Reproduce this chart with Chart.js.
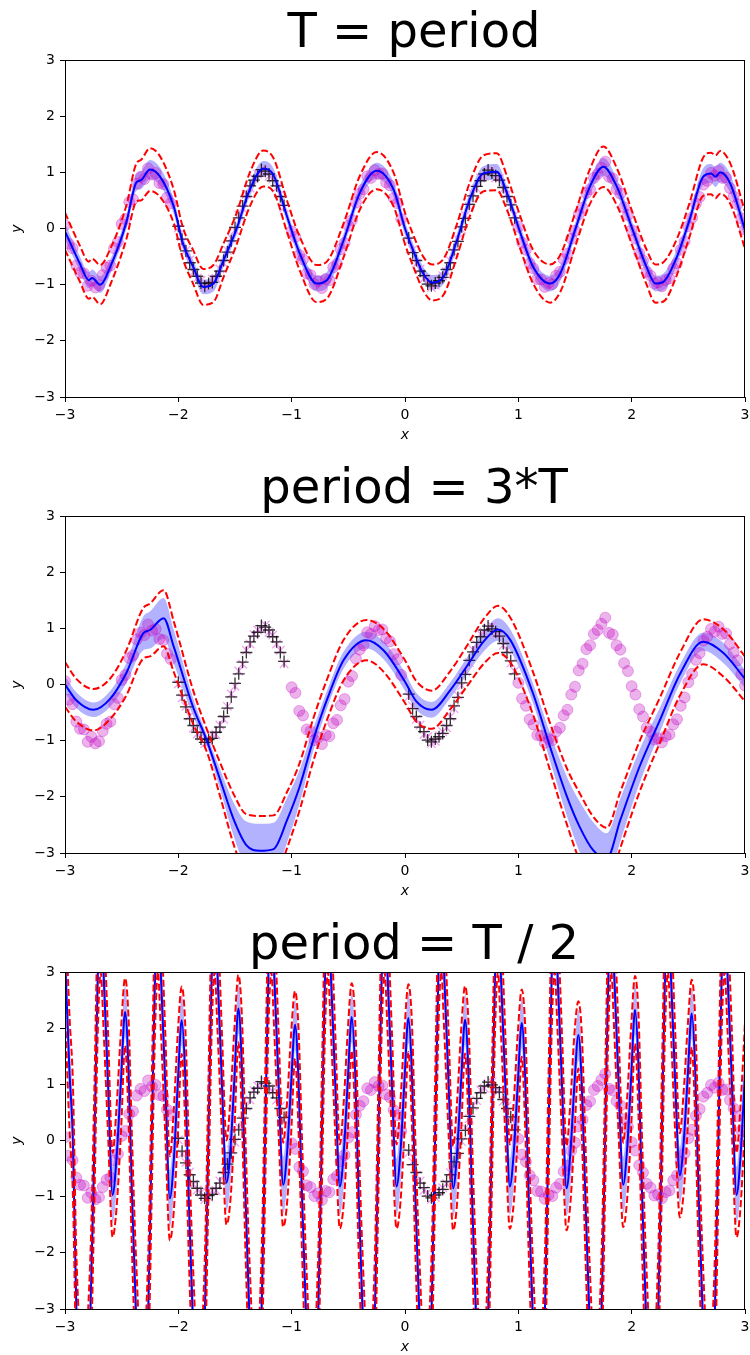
<!DOCTYPE html>
<html>
<head>
<meta charset="utf-8">
<script src="https://cdn.jsdelivr.net/npm/chart.js@4.4.1/dist/chart.umd.min.js"></script>
<style>
html, body { margin: 0; padding: 0; background: #fff; overflow: hidden; width: 750px; height: 1355px; }
canvas { position: absolute; left: 0; }
</style>
</head>
<body>
<canvas id="c1" width="750" height="456" style="top:0px"></canvas>
<canvas id="c2" width="750" height="456" style="top:456px"></canvas>
<canvas id="c3" width="750" height="456" style="top:912px"></canvas>
<script>
// panel titles and axis ticks
const titles = ['T = period', 'period = 3*T', 'period = T / 2'];
const xTicks = [-3, -2, -1, 0, 1, 2, 3];
const yTicks = [-3, -2, -1, 0, 1, 2, 3];

// training points (magenta circles)
const trainX = [
  -3.000, -2.967, -2.933, -2.900, -2.867, -2.833, -2.800, -2.767, -2.733, -2.700, -2.667, -2.633, -2.600, -2.567, -2.533,
  -2.500, -2.467, -2.433, -2.400, -2.367, -2.333, -2.300, -2.267, -2.233, -2.200, -2.167, -2.133, -2.100, -2.067,
  -1.000, -0.967, -0.933, -0.900, -0.867, -0.833, -0.800, -0.767, -0.733, -0.700, -0.667, -0.633, -0.600, -0.567, -0.533,
  -0.500, -0.467, -0.433, -0.400, -0.367, -0.333, -0.300, -0.267, -0.233, -0.200, -0.167, -0.133, -0.100, -0.067, -0.033,
  1.000, 1.033, 1.067, 1.100, 1.133, 1.167, 1.200, 1.233, 1.267, 1.300, 1.333, 1.367, 1.400, 1.433, 1.467,
  1.500, 1.533, 1.567, 1.600, 1.633, 1.667, 1.700, 1.733, 1.767, 1.800, 1.833, 1.867, 1.900, 1.933, 1.967,
  2.000, 2.033, 2.067, 2.100, 2.133, 2.167, 2.200, 2.233, 2.267, 2.300, 2.333, 2.367, 2.400, 2.433, 2.467,
  2.500, 2.533, 2.567, 2.600, 2.633, 2.667, 2.700, 2.733, 2.767, 2.800, 2.833, 2.867, 2.900, 2.933, 2.967, 3.000
];
const trainY = [
  0.06, -0.27, -0.35, -0.66, -0.79, -0.80, -1.02, -0.93, -1.05, -1.01, -0.83, -0.70, -0.66, -0.35, -0.24,
  0.08, 0.17, 0.47, 0.52, 0.80, 0.92, 0.88, 1.07, 0.96, 0.99, 0.81, 0.79, 0.55, 0.45,
  -0.05, -0.15, -0.47, -0.55, -0.80, -0.83, -0.99, -0.94, -1.06, -0.90, -0.92, -0.69, -0.63, -0.37, -0.26,
  0.05, 0.15, 0.46, 0.62, 0.70, 0.93, 0.90, 1.04, 0.97, 0.98, 0.82, 0.77, 0.54, 0.45, 0.17,
  0.03, -0.25, -0.38, -0.62, -0.71, -0.90, -0.91, -1.04, -0.97, -0.99, -0.84, -0.77, -0.55, -0.45, -0.18,
  -0.04, 0.25, 0.37, 0.63, 0.70, 0.90, 0.97, 1.08, 1.19, 0.92, 0.89, 0.70, 0.62, 0.38, 0.24,
  -0.03, -0.18, -0.44, -0.57, -0.77, -0.84, -0.98, -0.96, -1.03, -0.92, -0.89, -0.71, -0.62, -0.38, -0.23,
  0.04, 0.19, 0.44, 0.56, 0.78, 0.85, 0.99, 0.94, 1.03, 0.90, 0.91, 0.72, 0.57, 0.43, 0.18, -0.02
];

// held-out points: black plus = observed, violet x = true
const testX = [
  -2.000, -1.967, -1.933, -1.900, -1.867, -1.833, -1.800, -1.767, -1.733, -1.700, -1.667, -1.633, -1.600, -1.567, -1.533,
  -1.500, -1.467, -1.433, -1.400, -1.367, -1.333, -1.300, -1.267, -1.233, -1.200, -1.167, -1.133, -1.100, -1.067,
  0.033, 0.067, 0.100, 0.133, 0.167, 0.200, 0.233, 0.267, 0.300, 0.333, 0.367, 0.400, 0.433, 0.467, 0.500,
  0.533, 0.567, 0.600, 0.633, 0.667, 0.700, 0.733, 0.767, 0.800, 0.833, 0.867, 0.900, 0.933, 0.967
];
const testY = [
  0.04, -0.19, -0.40, -0.61, -0.73, -0.85, -0.97, -1.03, -0.98, -0.96, -0.85, -0.76, -0.57, -0.42, -0.22,
  0.02, 0.19, 0.40, 0.57, 0.76, 0.86, 0.93, 1.05, 1.02, 0.97, 0.85, 0.76, 0.57, 0.41,
  -0.17, -0.43, -0.57, -0.76, -0.84, -0.99, -1.02, -0.97, -0.93, -0.87, -0.73, -0.61, -0.38, -0.23, 0.03,
  0.18, 0.43, 0.58, 0.75, 0.85, 0.97, 1.04, 0.99, 0.94, 0.86, 0.73, 0.57, 0.42, 0.19
];
const testTrue = [
  0.01, -0.24, -0.39, -0.56, -0.78, -0.88, -0.92, -1.05, -1.01, -0.90, -0.89, -0.72, -0.62, -0.39, -0.17,
  -0.03, 0.24, 0.36, 0.61, 0.72, 0.89, 0.97, 0.99, 1.06, 0.93, 0.88, 0.72, 0.61, 0.37,
  -0.22, -0.38, -0.62, -0.72, -0.89, -0.93, -1.05, -1.01, -0.91, -0.84, -0.77, -0.57, -0.43, -0.19, -0.02,
  0.23, 0.39, 0.62, 0.71, 0.90, 0.93, 1.01, 1.04, 0.90, 0.89, 0.70, 0.61, 0.38, 0.24
];

// panel 1: T = period
const p1X = [-3.0, -2.87, -2.79, -2.76, -2.69, -2.6, -2.46, -2.37, -2.33, -2.25, -2.16, -2.04, -1.96, -1.87, -1.78,
  -1.69, -1.6, -1.49, -1.37, -1.25, -1.16, -1.04, -0.93, -0.78, -0.69, -0.54, -0.4, -0.25, -0.1, 0.0,
  0.07, 0.16, 0.24, 0.34, 0.46, 0.57, 0.69, 0.81, 0.9, 1.02, 1.13, 1.28, 1.37, 1.51, 1.63,
  1.75, 1.87, 2.01, 2.13, 2.21, 2.28, 2.4, 2.51, 2.63, 2.7, 2.74, 2.78, 2.87, 3.0];
const p1Mean = [-0.05, -0.62, -0.92, -0.88, -1.0, -0.68, 0.1, 0.82, 0.86, 1.05, 0.92, 0.39, -0.26, -0.68, -1.04,
  -0.98, -0.56, -0.03, 0.69, 1.07, 0.95, 0.21, -0.44, -0.98, -0.92, -0.2, 0.63, 1.03, 0.69, 0.0,
  -0.38, -0.8, -0.96, -0.86, -0.2, 0.51, 0.98, 1.01, 0.63, -0.09, -0.68, -0.98, -0.8, 0.03, 0.74,
  1.1, 0.74, -0.03, -0.68, -0.98, -0.95, -0.5, 0.15, 0.92, 0.98, 0.92, 1.0, 0.8, -0.03];
const p1Band = [0.33, 0.32, 0.33, 0.34, 0.35, 0.32, 0.3, 0.34, 0.36, 0.38, 0.36, 0.3, 0.28, 0.3, 0.32,
  0.33, 0.3, 0.28, 0.3, 0.32, 0.3, 0.28, 0.3, 0.33, 0.33, 0.3, 0.3, 0.33, 0.3, 0.28,
  0.28, 0.3, 0.32, 0.32, 0.29, 0.3, 0.32, 0.33, 0.3, 0.29, 0.3, 0.34, 0.33, 0.3, 0.31,
  0.36, 0.33, 0.3, 0.31, 0.34, 0.35, 0.32, 0.3, 0.34, 0.37, 0.38, 0.38, 0.36, 0.33];
const p1Shade = [0.14, 0.13, 0.14, 0.15, 0.15, 0.13, 0.12, 0.15, 0.16, 0.17, 0.16, 0.13, 0.12, 0.12, 0.13,
  0.14, 0.12, 0.11, 0.12, 0.13, 0.12, 0.11, 0.12, 0.14, 0.14, 0.12, 0.12, 0.14, 0.13, 0.12,
  0.12, 0.12, 0.13, 0.13, 0.12, 0.12, 0.13, 0.14, 0.12, 0.12, 0.12, 0.14, 0.14, 0.12, 0.13,
  0.16, 0.14, 0.12, 0.13, 0.14, 0.15, 0.13, 0.12, 0.15, 0.17, 0.18, 0.17, 0.16, 0.14];

// panel 2: period = 3*T
const p2X = [-3.0, -2.9, -2.75, -2.6, -2.46, -2.31, -2.25, -2.13, -2.04, -1.87, -1.75, -1.63, -1.51, -1.4, -1.28,
  -1.16, -1.04, -0.93, -0.81, -0.69, -0.54, -0.34, -0.19, 0.0, 0.1, 0.235, 0.4, 0.544, 0.7, 0.82,
  0.93, 1.13, 1.28, 1.43, 1.54, 1.66, 1.78, 1.9, 2.07, 2.25, 2.43, 2.63, 2.81, 3.0];
const p2Mean = [0.0, -0.28, -0.45, -0.25, 0.2, 0.91, 0.97, 1.18, 0.67, -0.4, -0.99, -1.7, -2.41, -2.86, -2.96,
  -2.93, -2.41, -1.82, -0.99, -0.28, 0.44, 0.79, 0.61, 0.05, -0.3, -0.45, -0.1, 0.32, 0.78, 0.98,
  0.79, -0.16, -1.11, -2.0, -2.53, -2.95, -3.1, -2.41, -1.46, -0.63, 0.2, 0.76, 0.56, 0.1];
const p2Band = [0.4, 0.38, 0.37, 0.36, 0.4, 0.45, 0.47, 0.5, 0.45, 0.3, 0.2, 0.3, 0.45, 0.55, 0.62,
  0.6, 0.5, 0.42, 0.38, 0.36, 0.36, 0.36, 0.38, 0.38, 0.36, 0.34, 0.34, 0.36, 0.4, 0.42,
  0.4, 0.38, 0.42, 0.5, 0.6, 0.6, 0.55, 0.5, 0.45, 0.4, 0.38, 0.4, 0.42, 0.4];
const p2Shade = [0.15, 0.14, 0.13, 0.14, 0.18, 0.3, 0.33, 0.36, 0.3, 0.16, 0.1, 0.18, 0.3, 0.42, 0.48,
  0.47, 0.4, 0.3, 0.2, 0.16, 0.15, 0.15, 0.16, 0.16, 0.15, 0.14, 0.14, 0.15, 0.18, 0.2,
  0.19, 0.18, 0.25, 0.35, 0.45, 0.5, 0.45, 0.38, 0.3, 0.22, 0.17, 0.16, 0.18, 0.16];

// panel 3: period = T / 2 (one row per oscillation)
const p3X = [
  -3.000, -2.960, -2.930, -2.900, -2.840, -2.775, -2.740, -2.710, -2.685, -2.660, -2.620, -2.580, -2.545, -2.505,
  -2.470, -2.440, -2.410, -2.375, -2.320, -2.265, -2.235, -2.205, -2.180, -2.155, -2.115, -2.075, -2.040, -2.005,
  -1.970, -1.940, -1.910, -1.875, -1.820, -1.765, -1.735, -1.705, -1.680, -1.655, -1.615, -1.575, -1.540, -1.505,
  -1.470, -1.440, -1.410, -1.375, -1.320, -1.265, -1.235, -1.205, -1.180, -1.155, -1.115, -1.075, -1.040, -1.005,
  -0.970, -0.940, -0.910, -0.875, -0.820, -0.765, -0.735, -0.705, -0.680, -0.655, -0.615, -0.575, -0.540, -0.505,
  -0.470, -0.440, -0.410, -0.375, -0.320, -0.265, -0.235, -0.205, -0.180, -0.155, -0.115, -0.075, -0.040, -0.005,
  0.030, 0.060, 0.090, 0.125, 0.180, 0.235, 0.265, 0.295, 0.320, 0.345, 0.385, 0.425, 0.460, 0.495,
  0.530, 0.560, 0.590, 0.625, 0.680, 0.735, 0.765, 0.795, 0.820, 0.845, 0.885, 0.925, 0.960, 0.995,
  1.030, 1.060, 1.090, 1.125, 1.180, 1.235, 1.265, 1.295, 1.320, 1.345, 1.385, 1.425, 1.460, 1.495,
  1.530, 1.560, 1.590, 1.625, 1.680, 1.735, 1.765, 1.795, 1.820, 1.845, 1.885, 1.925, 1.960, 1.995,
  2.030, 2.060, 2.090, 2.125, 2.180, 2.235, 2.265, 2.295, 2.320, 2.345, 2.385, 2.425, 2.460, 2.495,
  2.530, 2.560, 2.590, 2.625, 2.680, 2.735, 2.765, 2.795, 2.820, 2.845, 2.885, 2.925, 2.960, 3.000
];
const p3Mean = [
  3.3, 1.2, 0.0, -3.0, -4.9, -3.0, 0.0, 3.0, 3.9, 3.0, 1.0, -0.97, -0.3, 1.1,
  2.29, 1.3, -0.9, -3.0, -5.0, -3.0, 0.0, 3.0, 3.9, 3.0, 1.0, -1.03, -0.35, 1.0,
  2.14, 1.2, -0.9, -3.0, -5.0, -3.0, 0.0, 3.0, 3.9, 3.0, 1.0, -0.75, -0.15, 1.1,
  2.35, 1.35, -0.8, -3.0, -5.0, -3.0, 0.0, 3.0, 3.9, 3.0, 1.0, -0.79, -0.2, 1.0,
  2.06, 1.1, -0.9, -3.0, -5.0, -3.0, 0.0, 3.0, 3.9, 3.0, 1.0, -0.82, -0.2, 1.05,
  2.2, 1.25, -0.9, -3.0, -5.0, -3.0, 0.0, 3.0, 3.9, 3.0, 1.0, -0.82, -0.2, 1.05,
  2.18, 1.25, -0.9, -3.0, -5.0, -3.0, 0.0, 3.0, 3.9, 3.0, 1.0, -0.85, -0.2, 1.05,
  2.15, 1.2, -0.9, -3.0, -5.0, -3.0, 0.0, 3.0, 3.9, 3.0, 1.0, -0.82, -0.2, 1.0,
  2.09, 1.15, -0.9, -3.0, -5.0, -3.0, 0.0, 3.0, 3.9, 3.0, 1.0, -0.85, -0.2, 1.0,
  1.88, 1.0, -0.9, -3.0, -5.0, -3.0, 0.0, 3.0, 3.9, 3.0, 1.0, -0.79, -0.15, 1.1,
  2.33, 1.35, -0.85, -3.0, -5.0, -3.0, 0.0, 3.0, 3.9, 3.0, 1.0, -0.62, 0.0, 1.15,
  2.26, 1.3, -0.9, -3.0, -5.0, -3.0, 0.0, 3.0, 3.9, 3.0, 1.0, -0.97, -0.3, 1.2
];
const p3Band = [
  1.0, 1.0, 1.0, 1.0, 1.0, 1.0, 1.0, 1.0, 0.9, 1.0, 0.9, 0.75, 0.9, 0.9,
  0.6, 0.9, 1.0, 1.0, 1.0, 1.0, 1.0, 1.0, 0.9, 1.0, 0.9, 0.75, 0.9, 0.9,
  0.6, 0.9, 1.0, 1.0, 1.0, 1.0, 1.0, 1.0, 0.9, 1.0, 0.9, 0.75, 0.9, 0.9,
  0.6, 0.9, 1.0, 1.0, 1.0, 1.0, 1.0, 1.0, 0.9, 1.0, 0.9, 0.75, 0.9, 0.9,
  0.6, 0.9, 1.0, 1.0, 1.0, 1.0, 1.0, 1.0, 0.9, 1.0, 0.9, 0.75, 0.9, 0.9,
  0.6, 0.9, 1.0, 1.0, 1.0, 1.0, 1.0, 1.0, 0.9, 1.0, 0.9, 0.75, 0.9, 0.9,
  0.6, 0.9, 1.0, 1.0, 1.0, 1.0, 1.0, 1.0, 0.9, 1.0, 0.9, 0.75, 0.9, 0.9,
  0.6, 0.9, 1.0, 1.0, 1.0, 1.0, 1.0, 1.0, 0.9, 1.0, 0.9, 0.75, 0.9, 0.9,
  0.6, 0.9, 1.0, 1.0, 1.0, 1.0, 1.0, 1.0, 0.9, 1.0, 0.9, 0.75, 0.9, 0.9,
  0.6, 0.9, 1.0, 1.0, 1.0, 1.0, 1.0, 1.0, 0.9, 1.0, 0.9, 0.75, 0.9, 0.9,
  0.6, 0.9, 1.0, 1.0, 1.0, 1.0, 1.0, 1.0, 0.9, 1.0, 0.9, 0.75, 0.9, 0.9,
  0.6, 0.9, 1.0, 1.0, 1.0, 1.0, 1.0, 1.0, 0.9, 1.0, 0.9, 0.75, 0.9, 0.9
];
const p3Shade = [
  0.6, 0.6, 0.6, 0.6, 0.6, 0.6, 0.6, 0.6, 0.5, 0.6, 0.6, 0.5, 0.6, 0.6,
  0.45, 0.6, 0.6, 0.6, 0.6, 0.6, 0.6, 0.6, 0.5, 0.6, 0.6, 0.5, 0.6, 0.6,
  0.45, 0.6, 0.6, 0.6, 0.6, 0.6, 0.6, 0.6, 0.5, 0.6, 0.6, 0.5, 0.6, 0.6,
  0.45, 0.6, 0.6, 0.6, 0.6, 0.6, 0.6, 0.6, 0.5, 0.6, 0.6, 0.5, 0.6, 0.6,
  0.45, 0.6, 0.6, 0.6, 0.6, 0.6, 0.6, 0.6, 0.5, 0.6, 0.6, 0.5, 0.6, 0.6,
  0.45, 0.6, 0.6, 0.6, 0.6, 0.6, 0.6, 0.6, 0.5, 0.6, 0.6, 0.5, 0.6, 0.6,
  0.45, 0.6, 0.6, 0.6, 0.6, 0.6, 0.6, 0.6, 0.5, 0.6, 0.6, 0.5, 0.6, 0.6,
  0.45, 0.6, 0.6, 0.6, 0.6, 0.6, 0.6, 0.6, 0.5, 0.6, 0.6, 0.5, 0.6, 0.6,
  0.45, 0.6, 0.6, 0.6, 0.6, 0.6, 0.6, 0.6, 0.5, 0.6, 0.6, 0.5, 0.6, 0.6,
  0.45, 0.6, 0.6, 0.6, 0.6, 0.6, 0.6, 0.6, 0.5, 0.6, 0.6, 0.5, 0.6, 0.6,
  0.45, 0.6, 0.6, 0.6, 0.6, 0.6, 0.6, 0.6, 0.5, 0.6, 0.6, 0.5, 0.6, 0.6,
  0.45, 0.6, 0.6, 0.6, 0.6, 0.6, 0.6, 0.6, 0.5, 0.6, 0.6, 0.5, 0.6, 0.6
];

const FONT = '"DejaVu Sans", sans-serif';

function pts(xs, ys, ws, sign) {
  return xs.map((x, i) => ({ x: x, y: ys[i] + (ws ? sign * ws[i] : 0) }));
}

function minusLabel(v) {
  return v < 0 ? '\u2212' + Math.abs(v) : String(v);
}

// frame on all four sides, big title, italic axis labels
const framePlugin = {
  id: 'frame',
  afterDraw(chart, args, opts) {
    const ctx = chart.ctx;
    const a = chart.chartArea;
    ctx.save();
    ctx.strokeStyle = '#000';
    ctx.lineWidth = 1;
    ctx.strokeRect(a.left + 0.5, a.top + 0.5, a.right - a.left - 1, a.bottom - a.top);
    ctx.fillStyle = '#000';
    ctx.textAlign = 'center';
    ctx.textBaseline = 'alphabetic';
    ctx.font = '48px ' + FONT;
    ctx.fillText(opts.title, (a.left + a.right) / 2 + 9, a.top - 13);
    ctx.font = 'italic 14px ' + FONT;
    ctx.textBaseline = 'middle';
    ctx.fillText('x', (a.left + a.right) / 2, a.bottom + 38);
    ctx.translate(17, (a.top + a.bottom) / 2);
    ctx.rotate(-Math.PI / 2);
    ctx.fillText('y', 0, 0);
    ctx.restore();
  }
};

function axis(ticks, fit) {
  return {
    type: 'linear',
    min: -3,
    max: 3,
    afterBuildTicks: s => { s.ticks = ticks.map(v => ({ value: v })); },
    afterFit: s => {
      fit(s);
      s.paddingLeft = 0; s.paddingRight = 0; s.paddingTop = 0; s.paddingBottom = 0;
    },
    ticks: { color: '#000', font: { family: FONT, size: 14 }, padding: 5, maxRotation: 0, callback: minusLabel },
    grid: { drawOnChartArea: false, drawTicks: true, tickLength: 5, color: '#000', lineWidth: 1 },
    border: { display: true, color: '#000', width: 1 }
  };
}

function line(data, color, width, dash, order) {
  return {
    data: data, borderColor: color, borderWidth: width, borderDash: dash,
    pointRadius: 0, fill: false, cubicInterpolationMode: 'monotone', clip: 0, order: order
  };
}

function makeChart(id, title, xs, mean, band, shade) {
  new Chart(document.getElementById(id), {
    type: 'line',
    data: {
      datasets: [
        { data: pts(xs, mean, shade, 1), borderColor: 'rgba(0,0,0,0)', borderWidth: 0, pointRadius: 0,
          fill: '+1', backgroundColor: 'rgba(0,0,255,0.3)', cubicInterpolationMode: 'monotone', clip: 0, order: 10 },
        { data: pts(xs, mean, shade, -1), borderColor: 'rgba(0,0,0,0)', borderWidth: 0, pointRadius: 0,
          fill: false, cubicInterpolationMode: 'monotone', clip: 0, order: 10 },
        { data: pts(trainX, trainY), showLine: false, pointStyle: 'circle', pointRadius: 5.5, borderWidth: 1,
          backgroundColor: 'rgba(191,0,191,0.3)', borderColor: 'rgba(191,0,191,0.3)', clip: 0, order: 8 },
        { data: pts(testX, testTrue), showLine: false, pointStyle: 'crossRot', pointRadius: 6, borderWidth: 1.3,
          borderColor: 'rgba(238,130,238,0.75)', backgroundColor: 'rgba(0,0,0,0)', clip: 0, order: 7 },
        { data: pts(testX, testY), showLine: false, pointStyle: 'cross', pointRadius: 6, borderWidth: 1.3,
          borderColor: 'rgba(0,0,0,0.8)', backgroundColor: 'rgba(0,0,0,0)', clip: 0, order: 6 },
        line(pts(xs, mean), '#0000ff', 2, [], 2),
        line(pts(xs, mean, band, 1), '#ff0000', 2, [7, 3], 1),
        line(pts(xs, mean, band, -1), '#ff0000', 2, [7, 3], 1)
      ]
    },
    options: {
      responsive: false,
      devicePixelRatio: 1,
      animation: false,
      events: [],
      layout: { autoPadding: false, padding: { top: 60, right: 5, left: 0, bottom: 0 } },
      plugins: { legend: { display: false }, tooltip: { enabled: false }, frame: { title: title } },
      scales: {
        x: axis(xTicks, s => { s.height = 59; }),
        y: axis(yTicks, s => { s.width = 65; })
      }
    },
    plugins: [framePlugin]
  });
}

makeChart('c1', titles[0], p1X, p1Mean, p1Band, p1Shade);
makeChart('c2', titles[1], p2X, p2Mean, p2Band, p2Shade);
makeChart('c3', titles[2], p3X, p3Mean, p3Band, p3Shade);
</script>
</body>
</html>
